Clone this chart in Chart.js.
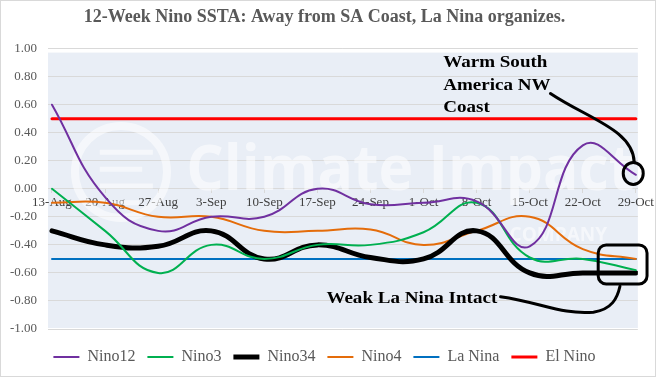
<!DOCTYPE html>
<html>
<head>
<meta charset="utf-8">
<title>12-Week Nino SSTA</title>
<script src="https://cdn.jsdelivr.net/npm/chart.js@4.4.1/dist/chart.umd.min.js"></script>
<style>
  html, body { margin: 0; padding: 0; background: #fff; }
  canvas { display: block; }
</style>
</head>
<body>
<canvas id="ssta" width="656" height="377"></canvas>
<script>
// weekly Nino region SST anomalies (deg C)
const weeks = ['13-Aug','20-Aug','27-Aug','3-Sep','10-Sep','17-Sep','24-Sep','1-Oct','8-Oct','15-Oct','22-Oct','29-Oct'];
const nino12 = [0.60, -0.06, -0.30, -0.20, -0.20, 0.00, -0.11, -0.10, -0.09, -0.41, 0.31, 0.10];
const nino3  = [0.00, -0.30, -0.60, -0.40, -0.50, -0.40, -0.40, -0.31, -0.10, -0.49, -0.50, -0.58];
const nino34 = [-0.30, -0.40, -0.41, -0.30, -0.50, -0.40, -0.49, -0.50, -0.30, -0.60, -0.60, -0.60];
const nino4  = [-0.10, -0.10, -0.20, -0.20, -0.30, -0.30, -0.29, -0.40, -0.30, -0.20, -0.43, -0.50];
const laNina = [-0.5, -0.5, -0.5, -0.5, -0.5, -0.5, -0.5, -0.5, -0.5, -0.5, -0.5, -0.5];
const elNino = [0.5, 0.5, 0.5, 0.5, 0.5, 0.5, 0.5, 0.5, 0.5, 0.5, 0.5, 0.5];
const yTicks = [-1, -0.8, -0.6, -0.4, -0.2, 0, 0.2, 0.4, 0.6, 0.8, 1];

const serif = 'Liberation Serif, Times New Roman, serif';

function pts(arr) {
  return arr.map((v, i) => ({ x: i, y: v }));
}

function series(label, arr, color, width) {
  return {
    label: label,
    data: pts(arr),
    borderColor: color,
    backgroundColor: color,
    borderWidth: width,
    pointRadius: 0,
    tension: 0.45,
    borderCapStyle: 'round',
    borderJoinStyle: 'round'
  };
}

// plot fill, outer frame and faint company watermark
const backdrop = {
  id: 'backdrop',
  beforeDraw(c) {
    const ctx = c.ctx, a = c.chartArea;
    ctx.save();
    ctx.strokeStyle = '#d9d9d9';
    ctx.lineWidth = 1;
    ctx.strokeRect(0.5, 0.5, c.width - 1, c.height - 1);
    ctx.fillStyle = '#e9eef6';
    ctx.fillRect(a.left, a.top + 4, a.right - a.left, a.bottom - a.top - 5);
    ctx.restore();
  },
  beforeDatasetsDraw(c) {
    const ctx = c.ctx;
    const X = v => c.scales.x.getPixelForValue(v);
    const Y = v => c.scales.y.getPixelForValue(v);
    ctx.save();
    ctx.globalAlpha = 0.55;
    ctx.strokeStyle = '#ffffff';
    ctx.fillStyle = '#ffffff';
    // logo ring
    ctx.lineWidth = 8;
    ctx.beginPath();
    ctx.arc(X(1.3), Y(0.12), 46, 0, Math.PI * 2);
    ctx.stroke();
    ctx.lineWidth = 5;
    ctx.beginPath();
    ctx.moveTo(X(0.9), Y(0.26)); ctx.lineTo(X(1.9), Y(0.26));
    ctx.moveTo(X(0.9), Y(0.14)); ctx.lineTo(X(1.7), Y(0.14));
    ctx.moveTo(X(0.9), Y(0.02)); ctx.lineTo(X(1.9), Y(0.02));
    ctx.moveTo(X(0.9), Y(-0.1)); ctx.lineTo(X(1.65), Y(-0.1));
    ctx.stroke();
    // big wordmark
    ctx.font = 'bold 62px "Open Sans", sans-serif';
    ctx.textBaseline = 'alphabetic';
    const word = 'Climate Impact';
    const w = ctx.measureText(word).width;
    ctx.save();
    ctx.translate(X(2.53), Y(-0.01));
    ctx.scale(448 / w, 1);
    ctx.fillText(word, 0, 0);
    ctx.restore();
    ctx.font = 'bold 19px "Open Sans", sans-serif';
    ctx.fillText('COMPANY', X(8.62), Y(-0.37));
    ctx.restore();
  }
};

// hand-drawn call-outs
const callouts = {
  id: 'callouts',
  afterDatasetsDraw(c) {
    const ctx = c.ctx;
    const X = v => c.scales.x.getPixelForValue(v);
    const Y = v => c.scales.y.getPixelForValue(v);
    const label = (txt, xv, yv) => {
      ctx.save();
      ctx.translate(X(xv), Y(yv));
      ctx.scale(1.12, 1);
      ctx.fillText(txt, 0, 0);
      ctx.restore();
    };
    ctx.save();
    ctx.fillStyle = '#000';
    ctx.strokeStyle = '#000';
    ctx.font = 'bold 17px ' + serif;
    ctx.textBaseline = 'alphabetic';
    label('Warm South', 7.37, 0.866);
    label('America NW', 7.37, 0.707);
    label('Coast', 7.37, 0.545);
    label('Weak La Nina Intact', 5.17, -0.812);

    ctx.lineWidth = 3;
    ctx.lineCap = 'round';
    // circle on the Nino12 end point
    const cx = X(10.95), cy = Y(0.11);
    ctx.beginPath();
    ctx.ellipse(cx, cy, 10, 11, 0, 0, Math.PI * 2);
    ctx.stroke();
    ctx.beginPath();
    ctx.moveTo(X(9.39), Y(0.68));
    ctx.bezierCurveTo(X(10.1), Y(0.5), X(10.95), Y(0.42), cx + 1, cy - 11);
    ctx.stroke();

    // box round the Nino34 end
    const bx = X(10.29), by = Y(-0.4), bw = X(11.21) - bx, bh = Y(-0.679) - by;
    ctx.beginPath();
    ctx.roundRect(bx, by, bw, bh, 8);
    ctx.stroke();
    ctx.beginPath();
    ctx.moveTo(X(8.45), Y(-0.77));
    ctx.bezierCurveTo(X(9.2), Y(-0.81), X(9.6), Y(-0.9), X(10.2), Y(-0.88));
    ctx.bezierCurveTo(X(10.55), Y(-0.86), X(10.65), Y(-0.78), X(10.7), Y(-0.695));
    ctx.stroke();
    ctx.restore();
  }
};

new Chart(document.getElementById('ssta'), {
  type: 'line',
  data: {
    datasets: [
      series('Nino12', nino12, '#7030a0', 2),
      series('Nino3', nino3, '#00b050', 2),
      series('Nino34', nino34, '#000000', 5),
      series('Nino4', nino4, '#e46c0a', 2),
      series('La Nina', laNina, '#0070c0', 2),
      series('El Nino', elNino, '#ff0000', 3)
    ]
  },
  options: {
    responsive: false,
    animation: false,
    layout: { padding: { left: 8, right: 15, top: 0, bottom: 2 } },
    plugins: {
      tooltip: { enabled: false },
      title: {
        display: true,
        text: '12-Week Nino SSTA: Away from SA Coast, La Nina organizes.',
        color: '#595959',
        font: { family: serif, size: 18, weight: 'bold' },
        padding: { top: 7, bottom: 20 }
      },
      legend: {
        position: 'bottom',
        labels: {
          usePointStyle: true,
          pointStyle: 'line',
          pointStyleWidth: 26,
          padding: 12,
          color: '#595959',
          font: { family: serif, size: 16 }
        }
      }
    },
    scales: {
      x: {
        type: 'linear',
        position: { y: 0 },
        min: -0.075,
        max: 11.037,
        border: { color: '#d9d9d9' },
        grid: { drawOnChartArea: false, tickLength: 4, color: '#d9d9d9' },
        ticks: {
          stepSize: 1,
          includeBounds: false,
          autoSkip: false,
          maxRotation: 0,
          padding: 2,
          color: '#404040',
          font: { family: serif, size: 13 },
          callback: v => weeks[v] ?? ''
        }
      },
      // empty spacer between the plot and the legend
      gap: {
        axis: 'x',
        type: 'linear',
        position: 'bottom',
        grid: { display: false },
        border: { display: false },
        ticks: { display: false },
        afterFit(s) { s.height = 8; }
      },
      y: {
        min: -1,
        max: 1,
        afterFit(s) { s.width = 40; },
        afterBuildTicks(s) { s.ticks = yTicks.map(v => ({ value: v })); },
        border: { display: false },
        grid: { color: '#d9d9d9', drawTicks: false },
        ticks: {
          padding: 11,
          color: '#595959',
          font: { family: serif, size: 13 },
          callback: v => v.toFixed(2)
        }
      }
    }
  },
  plugins: [backdrop, callouts]
});
</script>
</body>
</html>
